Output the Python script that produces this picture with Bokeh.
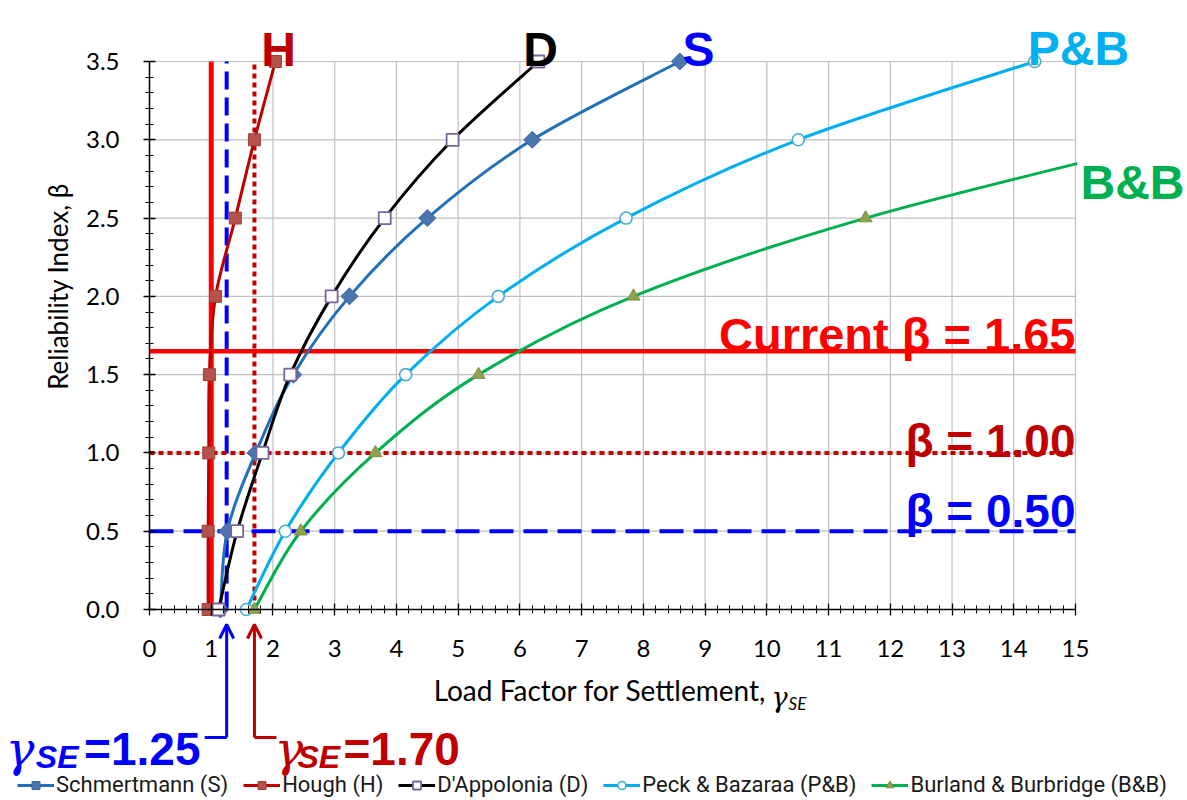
import math
from bokeh.plotting import figure
from bokeh.models import (Label, Legend, LegendItem, Arrow, OpenHead,
                          FixedTicker, NumeralTickFormatter, Range1d, ColumnDataSource)
from bokeh.embed import file_html
from bokeh.resources import INLINE

# ---------------- data ----------------
beta = [0.0, 0.5, 1.0, 1.5, 2.0, 2.5, 3.0, 3.5]
schmertmann = [1.15, 1.26, 1.72, 2.33, 3.24, 4.50, 6.20, 8.59]
hough = [0.95, 0.95, 0.96, 0.97, 1.07, 1.39, 1.70, 2.04]
dappolonia = [1.12, 1.42, 1.83, 2.28, 2.95, 3.81, 4.91, 6.30]
peck_bazaraa = [1.57, 2.20, 3.06, 4.15, 5.65, 7.72, 10.51, 14.34]
beta_bb = [0.0, 0.5, 1.0, 1.5, 2.0, 2.5, 3.0]
burland_burbridge = [1.70, 2.45, 3.66, 5.33, 7.84, 11.60, 16.60]

current_beta = 1.65
beta_levels = [1.00, 0.50]
gamma_current = 1.00
gamma_levels = [1.25, 1.70]

x_ticks = list(range(0, 16))
y_ticks = [0.0, 0.5, 1.0, 1.5, 2.0, 2.5, 3.0, 3.5]
x_minor = [i / 5 for i in range(0, 76)]
y_minor = [i / 10 for i in range(0, 36)]

series_names = ["Schmertmann (S)", "Hough (H)", "D'Appolonia (D)",
                "Peck & Bazaraa (P&B)", "Burland & Burbridge (B&B)"]

# ---------------- layout helpers (pixel -> data) ----------------
W, H = 1187, 800
L, R, T, B = 149, 112, 61, 191          # plot-area margins in the reference
XMIN, XMAX, YMIN, YMAX = 0.0, 15.0, 0.0, 3.5
fx = (W - L - R) / (XMAX - XMIN)
fy = (H - T - B) / (YMAX - YMIN)


def X(px):
    return XMIN + (px - L) / fx


def Y(py):
    return YMIN + (H - B - py) / fy


def smooth(xs, ys):
    """Cubic Bezier control points (Catmull-Rom, like Excel's smoothed line)."""
    n = len(xs)
    d = dict(x0=[], y0=[], x1=[], y1=[], cx0=[], cy0=[], cx1=[], cy1=[])
    for i in range(n - 1):
        xp, yp = (xs[i - 1], ys[i - 1]) if i > 0 else (xs[i], ys[i])
        xn, yn = (xs[i + 2], ys[i + 2]) if i + 2 < n else (xs[i + 1], ys[i + 1])
        d["x0"].append(xs[i]); d["y0"].append(ys[i])
        d["x1"].append(xs[i + 1]); d["y1"].append(ys[i + 1])
        d["cx0"].append(xs[i] + (xs[i + 1] - xp) / 6)
        d["cy0"].append(ys[i] + (ys[i + 1] - yp) / 6)
        d["cx1"].append(xs[i + 1] - (xn - xs[i]) / 6)
        d["cy1"].append(ys[i + 1] - (yn - ys[i]) / 6)
    return ColumnDataSource(d)


# the frame covers the whole canvas; axes are pinned at x=0 / y=0
p = figure(width=W, height=H, x_range=Range1d(X(0), X(W)), y_range=Range1d(Y(H), Y(0)),
           output_backend="svg", toolbar_location=None, title=None,
           min_border=0, min_border_left=0, min_border_right=0,
           min_border_top=0, min_border_bottom=0)
p.outline_line_color = None
p.background_fill_color = "white"
p.border_fill_color = "white"
p.grid.visible = False

# grid lines, only inside the plot area
GRID = "#BFBFBF"
p.segment(x0=x_ticks, y0=[YMIN] * len(x_ticks), x1=x_ticks, y1=[YMAX] * len(x_ticks),
          line_color=GRID, line_width=1.2)
p.segment(x0=[XMIN] * len(y_ticks), y0=y_ticks, x1=[XMAX] * len(y_ticks), y1=y_ticks,
          line_color=GRID, line_width=1.2)

# axes
p.xaxis.fixed_location = YMIN
p.yaxis.fixed_location = XMIN
p.xaxis.bounds = (XMIN, XMAX)
p.yaxis.bounds = (YMIN, YMAX)
p.xaxis.ticker = FixedTicker(ticks=x_ticks, minor_ticks=x_minor)
p.yaxis.ticker = FixedTicker(ticks=y_ticks, minor_ticks=y_minor)
p.xaxis.formatter = NumeralTickFormatter(format="0")
p.yaxis.formatter = NumeralTickFormatter(format="0.0")
for ax in (p.xaxis, p.yaxis):
    ax.axis_line_color = "black"
    ax.axis_line_width = 1.5
    ax.major_tick_line_color = "black"
    ax.minor_tick_line_color = "black"
    ax.major_tick_line_width = 1.3
    ax.minor_tick_line_width = 1
    ax.major_tick_in = 6
    ax.major_tick_out = 6
    ax.minor_tick_in = 4
    ax.minor_tick_out = 4
    ax.major_label_text_font = "Lato"
    ax.major_label_text_font_size = "24px"
    ax.major_label_text_color = "black"
p.xaxis.major_label_standoff = 24
p.yaxis.major_label_standoff = 24

# reference lines
p.segment(x0=[gamma_current], y0=[YMIN], x1=[gamma_current], y1=[YMAX],
          line_color="#FF0000", line_width=5)
p.segment(x0=[gamma_levels[0]], y0=[YMIN], x1=[gamma_levels[0]], y1=[YMAX],
          line_color="#0000FF", line_width=4, line_dash="18 8")
p.segment(x0=[gamma_levels[1]], y0=[YMIN], x1=[gamma_levels[1]], y1=[YMAX],
          line_color="#C00000", line_width=4, line_dash="5 4")
p.segment(x0=[XMIN], y0=[current_beta], x1=[XMAX], y1=[current_beta],
          line_color="#FF0000", line_width=4.5)
p.segment(x0=[XMIN], y0=[beta_levels[0]], x1=[XMAX], y1=[beta_levels[0]],
          line_color="#C00000", line_width=4, line_dash="5 4")
p.segment(x0=[XMIN], y0=[beta_levels[1]], x1=[XMAX], y1=[beta_levels[1]],
          line_color="#0000FF", line_width=4, line_dash="24 10")

# series
styles = [
    (schmertmann, beta, "#2270B8", dict(marker="square", angle=math.pi / 4, size=12,
                                        fill_color="#4A76B0", line_color="#3F66A0")),
    (hough, beta, "#C00000", dict(marker="square", size=12,
                                  fill_color="#B5524C", line_color="#9E3F3A")),
    (dappolonia, beta, "black", dict(marker="square", size=12, fill_color="white",
                                     line_color="#7A6399", line_width=1.8)),
    (peck_bazaraa, beta, "#00AEEF", dict(marker="circle", size=12, fill_color="white",
                                         line_color="#4BACC6", line_width=1.6)),
    (burland_burbridge, beta_bb, "#00B050", dict(marker="triangle", size=13,
                                                 fill_color="#8EA34A", line_color="#7F9340")),
]
items = []
for (xs, ys, col, mk), name in zip(styles, series_names):
    br = p.bezier(x0="x0", y0="y0", x1="x1", y1="y1", cx0="cx0", cy0="cy0",
                  cx1="cx1", cy1="cy1", source=smooth(xs, ys), line_color=col, line_width=3)
    sr = p.scatter(xs, ys, **mk)
    items.append(LegendItem(label=name, renderers=[br, sr]))

# mask the part of the B&B curve that runs past the x-axis maximum
p.quad(left=[XMAX + 0.03], right=[X(W)], bottom=[Y(300)], top=[Y(110)],
       fill_color="white", line_color=None)

legend = Legend(items=items, orientation="horizontal", location=(17, 3),
                border_line_color=None, background_fill_alpha=0,
                label_text_font="Roboto", label_text_font_size="22px",
                label_text_color="#1A1A1A",
                glyph_width=37, glyph_height=20, label_standoff=2, spacing=15,
                padding=0, margin=0)
p.add_layout(legend, "center")

# text labels
BIG = "Liberation Sans"


def lab(x, y, text, color, size, align="center", style="bold", font=BIG, **kw):
    p.add_layout(Label(x=x, y=y, text=text, text_color=color, text_font=font,
                       text_font_size=size, text_font_style=style, text_align=align,
                       text_baseline="alphabetic", **kw))


lab(X(278), Y(49), "H", "#C00000", "48px")
lab(X(540), Y(49), "D", "black", "48px")
lab(X(698), Y(49), "S", "#0000FF", "48px")
lab(X(1078), Y(48), "P&B", "#00B0F0", "48px")
lab(X(1080), Y(182), "B&B", "#00B050", "48px", align="left")
lab(XMAX, Y(334), "Current β = 1.65", "#FF0000", "47px", align="right")
lab(XMAX, Y(440), "β = 1.00", "#C00000", "46px", align="right")
lab(XMAX, Y(510), "β = 0.50", "#0000FF", "46px", align="right")

# axis titles
lab(X(57), Y(286), "Reliability Index, β", "black", "26px", style="normal", font="Lato",
    angle=math.pi / 2)
lab(X(766), Y(689), "Load Factor for Settlement,", "black", "28px", align="right",
    style="normal", font="Lato")
lab(X(771), Y(697), "γ", "black", "27px", align="left", style="italic",
    font="DejaVu Serif")
lab(X(788), Y(703), "SE", "black", "17px", align="left", style="italic", font="Lato")

# gamma annotations with arrows
for g, col, side in ((gamma_levels[0], "#0000FF", -1), (gamma_levels[1], "#C00000", 1)):
    p.add_layout(Arrow(end=OpenHead(size=14, line_color=col, line_width=3),
                       x_start=g, y_start=Y(737), x_end=g, y_end=Y(624),
                       line_color=col, line_width=3))
    p.add_layout(Arrow(end=None, x_start=g, y_start=Y(737), x_end=g + side * 22 / fx,
                       y_end=Y(737), line_color=col, line_width=3))

lab(X(34), Y(748), "γ", "#0000FF", "48px", align="right", style="italic",
    font="DejaVu Serif")
lab(X(78), Y(756), "SE", "#0000FF", "32px", align="right", style="bold italic")
lab(X(200), Y(748), "=1.25", "#0000FF", "46px", align="right")
lab(X(274), Y(748), "γ", "#C00000", "48px", align="left", style="italic",
    font="DejaVu Serif")
lab(X(297), Y(756), "SE", "#C00000", "32px", align="left", style="bold italic")
lab(X(343), Y(748), "=1.70", "#C00000", "46px", align="left")

open("out.html", "w").write(file_html(p, INLINE))
